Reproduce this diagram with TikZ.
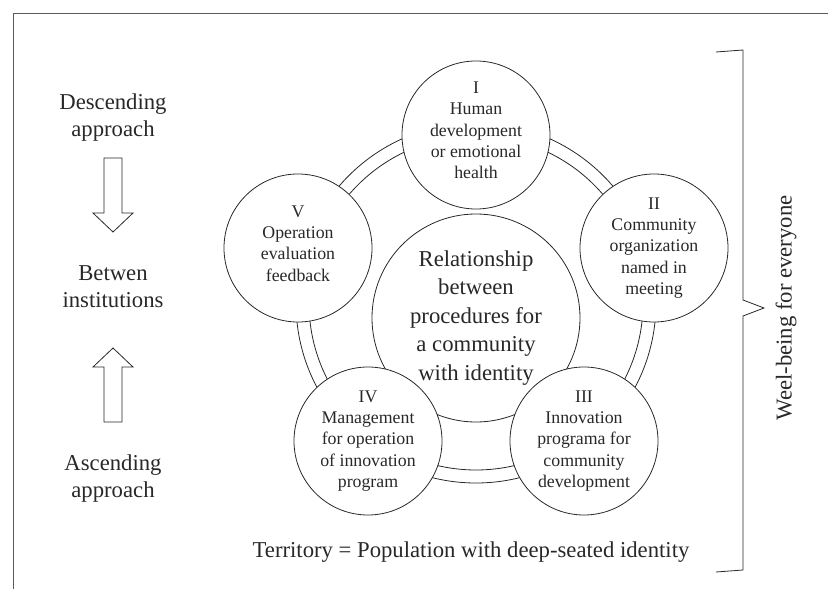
\documentclass[tikz,border=0pt]{standalone}
\usepackage{fontspec}
\setmainfont{Liberation Serif}
\definecolor{inkgray}{RGB}{40, 40, 40}
\definecolor{framegray}{RGB}{90, 90, 90}
\tikzset{
    phase/.style={circle, draw=inkgray, fill=white, line width=0.8pt, minimum size=148pt,
                  inner sep=0pt, align=center, text=inkgray, font=\fontsize{17.8}{21.4}\selectfont},
    core/.style={circle, draw=inkgray, fill=white, line width=0.8pt, minimum size=208pt,
                 inner sep=0pt, align=center, text=inkgray, font=\fontsize{22.7}{28.5}\selectfont},
    sidetext/.style={align=center, text=inkgray, font=\fontsize{22.7}{27}\selectfont},
    openarrow/.style={draw=inkgray, line width=0.8pt, line join=miter}
}

\begin{document}
\begin{tikzpicture}[x=1pt, y=-1pt]
    \useasboundingbox (0,0) rectangle (828,589);

    % Frame
    \draw[framegray, line width=1pt] (13,589) -- (13,13) -- (828,13);

    % Ring joining the phases
    \coordinate (ring) at (476,303);
    \draw[inkgray, line width=0.8pt] (ring) circle[radius=180pt];
    \draw[inkgray, line width=0.8pt] (ring) circle[radius=167pt];

    % Centre
    \node[core] (centre) at (476,318) {Relationship\\between\\procedures for\\a community\\with identity};

    % Phases
    \node[phase] (p1) at (476,135) {I\\Human\\development\\or emotional\\health\\[-12pt]\mbox{}};
    \node[phase] (p2) at (654,248) {II\\Community\\organization\\named in\\meeting};
    \node[phase] (p3) at (584,441) {III\\Innovation\\programa for\\community\\development};
    \node[phase] (p4) at (368,441) {IV\\Management\\for operation\\of innovation\\program};
    \node[phase] (p5) at (298,248) {V\\Operation\\evaluation\\feedback\\[-12pt]\mbox{}};

    % Left column
    \node[sidetext] (desc) at (113,118) {Descending\\approach};
    \node[sidetext] (inst) at (113,287) {Betwen\\institutions};
    \node[sidetext] (asc) at (113,479) {Ascending\\approach};
    \draw[openarrow] (104,158) -- (122,158) -- (122,213) -- (133,213) -- (113,232)
        -- (93,213) -- (104,213) -- cycle;
    \draw[openarrow] (113,348) -- (133,367) -- (122,367) -- (122,422) -- (104,422)
        -- (104,367) -- (93,367) -- cycle;

    % Bottom line
    \node[sidetext] (terr) at (471,552) {Territory = Population with deep-seated identity};

    % Bracket
    \coordinate (tip) at (764,308);
    \draw[inkgray, line width=0.8pt] (716,52) -- (743,50) -- (743,300) -- (tip)
        -- (743,316) -- (743,570) -- (716,572);
    \node[sidetext, rotate=90] (well) at (786,308) {Weel-being for everyone};
\end{tikzpicture}
\end{document}
